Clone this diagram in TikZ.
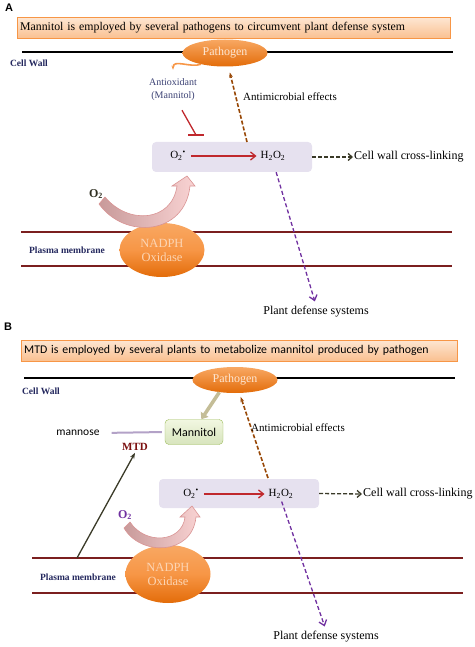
\documentclass[tikz,border=0pt]{standalone}
\usepackage{fontspec}
\setmainfont{Liberation Serif}
\newfontfamily\calibri{Carlito}
\newfontfamily\arialfont{Liberation Sans}
\usepackage{xcolor}
\usetikzlibrary{calc}
\usetikzlibrary{positioning}
\usetikzlibrary{arrows.meta}
\usetikzlibrary{shapes.geometric}

\definecolor{peach}{HTML}{FAC090}
\definecolor{peachlight}{HTML}{FDE6D2}
\definecolor{orangeline}{HTML}{F79646}
\definecolor{orangedark}{HTML}{E36C09}
\definecolor{orangelight}{HTML}{F8A863}
\definecolor{orangetext}{HTML}{FCD5B4}
\definecolor{navy}{HTML}{24285E}
\definecolor{slateblue}{HTML}{3C4274}
\definecolor{lavbox}{HTML}{E6E1EF}
\definecolor{reddish}{HTML}{C0282D}
\definecolor{maroon}{HTML}{7B1F1F}
\definecolor{brownish}{HTML}{984807}
\definecolor{purplish}{HTML}{7030A0}
\definecolor{olive}{HTML}{3A3A28}
\definecolor{pinkdark}{HTML}{C89A9A}
\definecolor{pinklight}{HTML}{F9D3D3}
\definecolor{pinkline}{HTML}{D99494}
\definecolor{khaki}{HTML}{C4BD97}
\definecolor{greenline}{HTML}{9BBB59}
\definecolor{greenlight}{HTML}{F2F7E1}
\definecolor{greenfill}{HTML}{D7E4BD}
\definecolor{lavline}{HTML}{B3A2C7}
\definecolor{mtdred}{HTML}{7B1010}

\begin{document}
\begin{tikzpicture}[x=1pt, y=-1pt, >=Stealth, font=\fontsize{11}{13}\selectfont]
    \tikzstyle{panel}=[font=\arialfont\bfseries\fontsize{11}{12}\selectfont, inner sep=0pt]
    \tikzstyle{headline}=[draw=orangeline, top color=peachlight, bottom color=peach, minimum height=21pt, align=left, inner sep=3pt, anchor=west]
    \tikzstyle{wall}=[line width=1.5pt, black]
    \tikzstyle{membrane}=[line width=1.2pt, maroon]
    \tikzstyle{pathogen}=[ellipse, top color=orangelight, bottom color=orangedark, draw=none, text=orangetext!60!white, inner sep=0pt, minimum width=85pt, minimum height=27pt, font=\fontsize{12}{14}\selectfont]
    \tikzstyle{oxidase}=[ellipse, top color=orangelight, bottom color=orangedark, middle color=orangeline, text=orangetext, inner sep=0pt, minimum width=85pt, minimum height=55pt, align=center, font=\fontsize{12.5}{14}\selectfont]
    \tikzstyle{rosbox}=[rounded corners=4pt, fill=lavbox, minimum height=30pt, inner sep=0pt]
    \tikzstyle{species}=[inner sep=1pt, font=\fontsize{11}{13}\selectfont]
    \tikzstyle{annot}=[inner sep=1pt, font=\fontsize{12}{14}\selectfont]
    \tikzstyle{layer}=[inner sep=1pt, text=navy, font=\bfseries\fontsize{9.5}{11}\selectfont]
    \tikzstyle{react}=[-{Straight Barb[length=5pt, width=8pt]}, line width=1.3pt, reddish, shorten <=4pt, shorten >=3pt]
    \tikzstyle{crosslink}=[-{Straight Barb[length=4pt, width=7pt]}, line width=1.3pt, olive, dash pattern=on 4pt off 2pt]
    \tikzstyle{antimic}=[-{Stealth[length=5pt]}, line width=1.6pt, brownish, dash pattern=on 4pt off 2pt]
    \tikzstyle{defense}=[-{Straight Barb[length=5pt, width=8pt]}, line width=1.3pt, purplish, dash pattern=on 4pt off 2.5pt]
    \tikzstyle{superox}=[left color=pinkdark, right color=pinklight, draw=pinkline, line width=0.6pt]

    %% Panel A
    \node[panel] (lblA) at (9,8) {A};
    \node[headline, text width=427pt, font=\fontsize{11.8}{13}\selectfont] (titleA) at (17,28) {Mannitol is employed by several pathogens to circumvent plant defense system};

    \draw[wall] (22,52) -- (453,52);
    \node[layer] (cwA) at (29,63) {Cell Wall};
    \node[pathogen] (pathA) at (225,53) {Pathogen};

    \node[inner sep=1pt, align=center, text=slateblue, font=\fontsize{10}{13}\selectfont] (oxA) at (173,90) {Antioxidant\\(Mannitol)};
    \draw[-{Stealth[length=4pt]}, line width=1.6pt, orangeline] (pathA.205) to[out=200, in=90] ($(oxA.north)+(0,-8)$);

    %% ROS box
    \node[rosbox, minimum width=160pt] (boxA) at (232,157) {};
    \node[species] (o2A) at (178,156) {O\textsubscript{2}\textsuperscript{•}};
    \node[species] (h2A) at (273,156) {H\textsubscript{2}O\textsubscript{2}};
    \draw[react] (o2A) -- (h2A);
    \node[annot, anchor=west] (clA) at (353,157) {Cell wall cross-linking};
    \draw[crosslink] (boxA.east) -- (clA.west);

    \coordinate (inhA) at (196,135);
    \draw[line width=1.3pt, reddish] ($(oxA.south)+(9,8)$) -- (inhA);
    \draw[line width=1.6pt, reddish] ($(inhA)+(-8,0)$) -- ($(inhA)+(8,0)$);

    \coordinate (amA) at (247,142);
    \draw[antimic, shorten >=6pt] (amA) -- (pathA);
    \node[annot, font=\fontsize{11}{13}\selectfont] (amlA) at (290,97) {Antimicrobial effects};

    %% Membrane
    \draw[membrane] (21,232) -- (452,232);
    \draw[membrane] (21,266) -- (452,266);
    \node[layer] (pmA) at (67,250) {Plasma membrane};
    \node[oxidase, minimum height=54pt] (naA) at (162,250) {NADPH\\Oxidase};

    \node[inner sep=1pt, text=olive!80!black, font=\bfseries\fontsize{12}{14}\selectfont] (o2lA) at (96,194) {O\textsubscript{2}};
    \draw[superox] (99,204) .. controls (125,240) and (185,235) .. (190,186)
        -- (195,186) -- (187,176) -- (172,186) -- (177,186)
        .. controls (172,222) and (128,225) .. (105,197) -- cycle;

    \node[annot] (pdA) at (316,312) {Plant defense systems};
    \draw[defense, shorten <=11pt, shorten >=4pt] (h2A.south) -- (pdA.north);

    %% Panel B
    \node[panel] (lblB) at (8,327) {B};
    \node[headline, text width=430pt, font=\calibri\fontsize{11.8}{13}\selectfont] (titleB) at (21,350.5) {MTD is employed by several plants to metabolize mannitol produced by pathogen};

    \draw[wall] (24,378) -- (455,378);
    \node[layer] (cwB) at (41,391) {Cell Wall};
    \node[pathogen, minimum height=26pt] (pathB) at (235,380) {Pathogen};

    \node[rounded corners=4pt, draw=greenline, top color=greenlight, bottom color=greenfill, minimum width=58pt, minimum height=25pt, inner sep=0pt, font=\calibri\fontsize{12}{14}\selectfont] (manB) at (194,432) {Mannitol};
    \draw[-{Triangle[length=6pt, width=9pt]}, line width=3.5pt, khaki] (pathB.218) -- (manB.60);

    \node[inner sep=1pt, font=\calibri\fontsize{11.5}{14}\selectfont] (mnB) at (78,433) {mannose};
    \draw[line width=2pt, lavline, shorten <=3pt, shorten >=11pt] (manB.west) -- (mnB.east);
    \node[fill=white, inner sep=2pt, text=mtdred, font=\bfseries\fontsize{11}{13}\selectfont] (mtdB) at (135,447) {MTD};

    %% ROS box
    \node[rosbox, minimum width=160pt, minimum height=29pt] (boxB) at (239,493.5) {};
    \node[species] (o2B) at (191,494) {O\textsubscript{2}\textsuperscript{•}};
    \node[species] (h2B) at (281,494) {H\textsubscript{2}O\textsubscript{2}};
    \draw[react] (o2B) -- (h2B);
    \node[annot, anchor=west] (clB) at (362,494) {Cell wall cross-linking};
    \draw[crosslink] (boxB.east) -- (clB.west);

    \coordinate (amB) at (268,478);
    \draw[antimic, shorten >=4pt] (amB) -- (pathB);
    \node[annot, anchor=west, font=\fontsize{11}{13}\selectfont] (amlB) at (250,428) {Antimicrobial effects};

    %% Membrane
    \draw[membrane] (32,558) -- (463,558);
    \draw[membrane] (32,593) -- (463,593);
    \node[layer] (pmB) at (78,577) {Plasma membrane};
    \coordinate (pmtB) at (77,558);
    \draw[-{Stealth[length=6pt]}, line width=1.3pt, olive] (pmtB) -- (mtdB.south);
    \node[oxidase, minimum height=58pt] (naB) at (168,574) {NADPH\\Oxidase};

    \node[inner sep=1pt, text=purplish, font=\bfseries\fontsize{12}{14}\selectfont] (o2lB) at (125,515) {O\textsubscript{2}};
    \draw[superox] (124,528) .. controls (140,556) and (192,556) .. (196,517)
        -- (200,517) -- (192,506) -- (180,517) -- (185,517)
        .. controls (182,543) and (145,545) .. (130,522) -- cycle;

    \node[annot] (pdB) at (326,637) {Plant defense systems};
    \draw[defense, shorten <=2pt, shorten >=4pt] (h2B.south) -- (pdB.north);

    \useasboundingbox (0,0) rectangle (474,647);
\end{tikzpicture}
\end{document}
